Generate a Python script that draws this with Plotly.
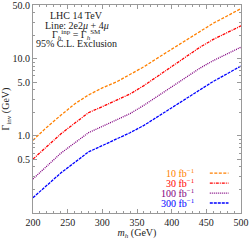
import plotly.graph_objects as go

mass = [200, 220, 240, 260, 280, 300, 320, 340, 360, 380, 400, 420, 440, 460, 480, 500]
width_10 = [0.88, 1.30, 1.85, 2.60, 3.40, 4.20, 5.00, 6.30, 7.90, 10.3, 13.3, 17.3, 22.5, 29.0, 36.0, 45.0]
width_30 = [0.50, 0.73, 1.06, 1.46, 2.00, 2.40, 2.90, 3.50, 4.50, 6.00, 7.90, 10.5, 14.0, 17.9, 21.9, 26.8]
width_100 = [0.277, 0.406, 0.595, 0.81, 1.10, 1.33, 1.61, 1.95, 2.50, 3.30, 4.30, 5.70, 7.50, 9.50, 11.6, 14.2]
width_300 = [0.158, 0.228, 0.33, 0.452, 0.62, 0.75, 0.91, 1.10, 1.37, 1.79, 2.34, 3.05, 4.00, 5.10, 6.40, 8.10]

series_names = ["10 fb<sup>−1</sup>", "30 fb<sup>−1</sup>", "100 fb<sup>−1</sup>", "300 fb<sup>−1</sup>"]
series_values = [width_10, width_30, width_100, width_300]
colors = ["#FF8000", "#FF0000", "#800080", "#0000FF"]
dashes = ["3px,1.5px", "3px,1px,1px,1px", "1px,1px", "3px,1px"]

x_ticks = [200, 250, 300, 350, 400, 450, 500]
y_ticks = [0.5, 1.0, 5.0, 10.0, 50.0]
y_tick_text = ["0.5", "1.0", "5.0", "10.0", "50.0"]

info_lines = ["LHC 14 TeV", "Line: 2e2<i>μ</i> + 4<i>μ</i>",
              "Γ<sub><i>h</i></sub><sup>inp</sup> = Γ<sub><i>h</i></sub><sup>SM</sup>",
              "95% C.L. Exclusion"]

FONT = "Liberation Serif, Times New Roman, serif"

fig = go.Figure()
for name, vals, c, d in zip(series_names, series_values, colors, dashes):
    fig.add_trace(go.Scatter(x=mass, y=vals, mode="lines", name=name,
                             line=dict(color=c, width=1.3, dash=d), showlegend=False))

# info text
info_y = [0.948, 0.902, 0.854, 0.814]
for t, yy in zip(info_lines, info_y):
    fig.add_annotation(x=0.21, y=yy, xref="paper", yref="paper",
                       text=t, showarrow=False, xanchor="center", yanchor="middle",
                       font=dict(family=FONT, size=10, color="#222"))

# legend (text to the left of line samples)
leg_y = [0.192, 0.144, 0.096, 0.048]
for name, c, d, yy in zip(series_names, colors, dashes, leg_y):
    fig.add_annotation(x=0.79, y=yy, xref="paper", yref="paper", text=name,
                       showarrow=False, xanchor="right", yanchor="middle",
                       font=dict(family=FONT, size=10, color=c))
    fig.add_shape(type="line", xref="paper", yref="paper", x0=0.85, x1=0.94,
                  y0=yy, y1=yy, line=dict(color=c, width=1.3, dash=d))

axis_common = dict(showline=True, linecolor="#999", linewidth=1, mirror="ticks",
                   ticks="inside", tickcolor="#999", ticklen=4, showgrid=False,
                   zeroline=False, automargin=False, ticklabeloverflow="allow",
                   tickfont=dict(family=FONT, size=10, color="#222"))

fig.update_xaxes(range=[200, 500], tickvals=x_ticks,
                 minor=dict(ticks="inside", ticklen=2, dtick=10, tickcolor="#999"),
                 title=dict(text="<i>m</i><sub><i>h</i></sub> (GeV)", standoff=3,
                            font=dict(family=FONT, size=10, color="#222")),
                 **axis_common)
fig.update_yaxes(type="log", range=[-1, 1.69899], tickvals=y_ticks, ticktext=y_tick_text,
                 minor=dict(ticks="inside", ticklen=2, tickcolor="#999",
                            tickvals=[0.2, 0.3, 0.4, 0.6, 0.7, 0.8, 0.9, 2, 3, 4, 6, 7, 8, 9, 20, 30, 40]),
                 title=dict(text="Γ<sub>inv</sub> (GeV)", standoff=2,
                            font=dict(family=FONT, size=10, color="#222")),
                 **axis_common)

fig.update_layout(width=250, height=240, margin=dict(l=33, r=9, t=5, b=27),
                  paper_bgcolor="white", plot_bgcolor="white", showlegend=False)

fig.write_html("out.html", config={"displayModeBar": False},
               post_script="document.body.style.margin='0';")
